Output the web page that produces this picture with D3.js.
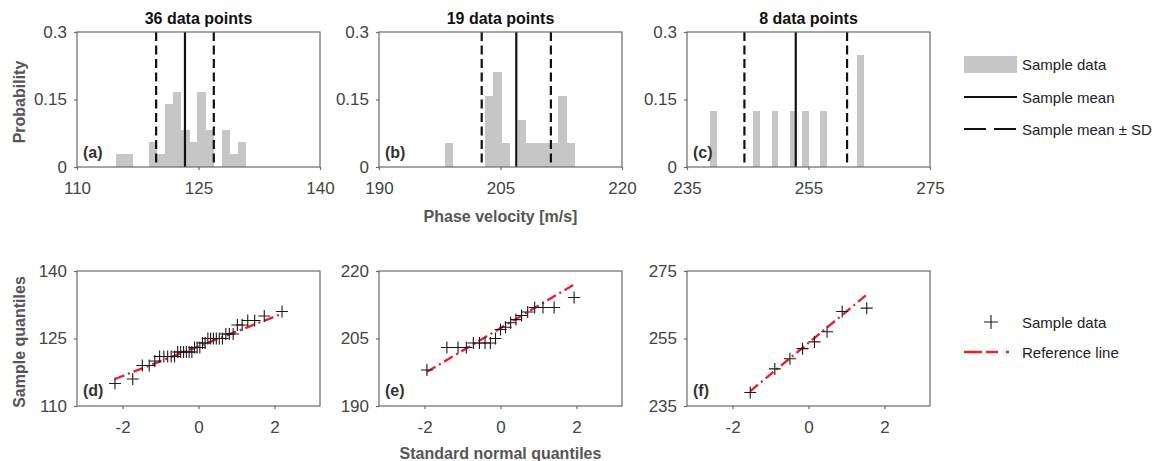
<!DOCTYPE html>
<html>
<head>
<meta charset="utf-8">
<script src="https://cdn.jsdelivr.net/npm/d3@7"></script>
<style>
    body { margin: 0; background: #fff; }
    svg { font-family: "Liberation Sans", Arial, sans-serif; }
</style>
</head>
<body>
<svg id="chart" width="1164" height="461"></svg>
<script>
// ---- data ----
const titles = ['36 data points', '19 data points', '8 data points'];
const histLetters = ['(a)', '(b)', '(c)'];
const qqLetters = ['(d)', '(e)', '(f)'];

const histDomains = [[110, 140], [190, 220], [235, 275]];
const histTicks = [[110, 125, 140], [190, 205, 220], [235, 255, 275]];
const probTicks = [0, 0.15, 0.3];
const probTickLabels = ['0', '0.15', '0.3'];

// histogram bins: lower edge, shared width, probability
const binWidths = [1.0, 1.0, 1.05];
const binStartsA = [114.85, 115.85, 116.85, 117.85, 118.85, 119.85, 120.85, 121.85,
    122.85, 123.85, 124.85, 125.85, 126.85, 127.85, 128.85, 129.85];
const probA = [0.028, 0.028, 0, 0, 0.056, 0.028, 0.139, 0.167,
    0.083, 0.056, 0.167, 0.083, 0, 0.083, 0.028, 0.056];
const binStartsB = [198.1, 199.1, 200.1, 201.1, 202.1, 203.1, 204.1, 205.1,
    206.1, 207.1, 208.1, 209.1, 210.1, 211.1, 212.1, 213.1];
const probB = [0.053, 0, 0, 0, 0, 0.158, 0.211, 0.053,
    0, 0.105, 0.053, 0.053, 0.053, 0.053, 0.158, 0.053];
const binStartsC = [238.85, 245.85, 248.93, 251.9, 253.9, 256.9, 263.0];
const probC = [0.125, 0.125, 0.125, 0.125, 0.125, 0.125, 0.25];

const sampleMeans = [123.33, 206.95, 252.9];
const sampleSDs = [3.56, 4.27, 8.45];

// Q-Q plots: standard normal quantiles vs. sorted sample
const qqDomainX = [-3.2, 3.2];
const qqTicksX = [-2, 0, 2];
const qqDomains = [[110, 140], [190, 220], [235, 275]];
const qqTicksY = [[110, 125, 140], [190, 205, 220], [235, 255, 275]];

const qqXA = [-2.200, -1.732, -1.480, -1.297, -1.150, -1.024, -0.913, -0.812, -0.719,
    -0.631, -0.548, -0.469, -0.393, -0.319, -0.246, -0.175, -0.105, -0.035,
    0.035, 0.105, 0.175, 0.246, 0.319, 0.393, 0.469, 0.548, 0.631,
    0.719, 0.812, 0.913, 1.024, 1.150, 1.297, 1.480, 1.732, 2.200];
const qqYA = [115, 116, 119, 119, 120, 121, 121, 121, 121, 121, 122, 122, 122, 122, 122, 122,
    123, 123, 123, 124, 124, 125, 125, 125, 125, 125, 125, 126, 126, 126,
    128, 128, 129, 129, 130, 131];
const qqXB = [-1.938, -1.412, -1.119, -0.900, -0.716, -0.555, -0.407, -0.267, -0.132, 0,
    0.132, 0.267, 0.407, 0.555, 0.716, 0.900, 1.119, 1.412, 1.938];
const qqYB = [198, 203, 203, 203, 204, 204, 204, 204, 205, 207,
    207.5, 208.5, 209.2, 210.1, 210.9, 211.9, 211.9, 211.9, 214.1];
const qqXC = [-1.534, -0.887, -0.489, -0.157, 0.157, 0.489, 0.887, 1.534];
const qqYC = [239, 246, 249, 252, 254, 257, 263, 264];

// reference lines (end points)
const refX = [[-2.2, 2.2], [-1.938, 1.938], [-1.534, 1.534]];
const refY = [[116.0, 130.5], [197.6, 217.0], [239.4, 268.0]];

// ---- layout ----
const lefts = [77, 379, 687];
const panelW = 243;
const panelH = 135;
const tops = [32, 271];

const barColor = '#c6c6c6';
const axisColor = '#6a6a6a';
const tickColor = '#444';
const labelColor = '#555';
const redColor = '#e8242a';
const meanDash = '9,4.5';
const refDash = '10,4,2,4';

const histBins = [binStartsA, binStartsB, binStartsC];
const histProbs = [probA, probB, probC];
const qqX = [qqXA, qqXB, qqXC];
const qqY = [qqYA, qqYB, qqYC];

const svg = d3.select('#chart');

function styleAxis(g) {
    g.select('.domain').remove();
    g.selectAll('.tick line').attr('stroke', axisColor).attr('stroke-width', 1.2);
    g.selectAll('.tick text')
        .attr('fill', tickColor)
        .style('font-size', '17px');
}

function frame(g) {
    g.append('rect')
        .attr('x', 0).attr('y', 0)
        .attr('width', panelW).attr('height', panelH)
        .attr('fill', 'none')
        .attr('stroke', axisColor)
        .attr('stroke-width', 1.2);
}

function crossPath(size) {
    return `M${-size},0H${size}M0,${-size}V${size}`;
}

// ---- histogram row ----
histDomains.forEach((dom, i) => {
    const g = svg.append('g')
        .attr('transform', `translate(${lefts[i]},${tops[0]})`);

    const x = d3.scaleLinear().domain(dom).range([0, panelW]);
    const y = d3.scaleLinear().domain([0, 0.3]).range([panelH, 0]);

    const bars = histBins[i].map((b, k) => ({x0: b, p: histProbs[i][k]}))
        .filter(d => d.p > 0);

    g.selectAll('.bar')
        .data(bars)
        .enter()
        .append('rect')
        .attr('class', 'bar')
        .attr('x', d => x(d.x0))
        .attr('width', d => x(d.x0 + binWidths[i]) - x(d.x0) + 0.4)
        .attr('y', d => y(d.p))
        .attr('height', d => y(0) - y(d.p))
        .attr('fill', barColor)
        .attr('shape-rendering', 'crispEdges');

    const m = sampleMeans[i];
    const sd = sampleSDs[i];
    [m - sd, m + sd].forEach(v => {
        g.append('line')
            .attr('x1', x(v)).attr('x2', x(v))
            .attr('y1', y(0.3)).attr('y2', y(0))
            .attr('stroke', '#111')
            .attr('stroke-width', 2.2)
            .attr('stroke-dasharray', meanDash);
    });
    g.append('line')
        .attr('x1', x(m)).attr('x2', x(m))
        .attr('y1', y(0.3)).attr('y2', y(0))
        .attr('stroke', '#111')
        .attr('stroke-width', 2.2);

    frame(g);

    g.append('g')
        .attr('transform', `translate(0,${panelH})`)
        .call(d3.axisBottom(x).tickValues(histTicks[i]).tickSize(3).tickPadding(12)
            .tickFormat(d3.format('d')))
        .call(styleAxis);

    g.append('g')
        .call(d3.axisLeft(y).tickValues(probTicks).tickSize(3).tickPadding(7)
            .tickFormat((d, k) => probTickLabels[k]))
        .call(styleAxis);

    g.append('text')
        .attr('x', panelW / 2)
        .attr('y', -8)
        .attr('text-anchor', 'middle')
        .attr('font-weight', 'bold')
        .attr('font-size', '16px')
        .attr('fill', '#111')
        .text(titles[i]);

    g.append('text')
        .attr('x', 6)
        .attr('y', panelH - 9)
        .attr('font-weight', 'bold')
        .attr('font-size', '16px')
        .attr('fill', '#333')
        .text(histLetters[i]);
});

// ---- Q-Q row ----
qqDomains.forEach((dom, i) => {
    const g = svg.append('g')
        .attr('transform', `translate(${lefts[i]},${tops[1]})`);

    const x = d3.scaleLinear().domain(qqDomainX).range([0, panelW]);
    const y = d3.scaleLinear().domain(dom).range([panelH, 0]);

    const pts = qqX[i].map((q, k) => ({q: q, v: qqY[i][k]}));

    g.append('line')
        .attr('x1', x(refX[i][0])).attr('y1', y(refY[i][0]))
        .attr('x2', x(refX[i][1])).attr('y2', y(refY[i][1]))
        .attr('stroke', redColor)
        .attr('stroke-width', 2.4)
        .attr('stroke-dasharray', refDash);

    g.selectAll('.pt')
        .data(pts)
        .enter()
        .append('path')
        .attr('class', 'pt')
        .attr('transform', d => `translate(${x(d.q)},${y(d.v)})`)
        .attr('d', crossPath(6))
        .attr('stroke', '#1a1a1a')
        .attr('stroke-width', 1.1)
        .attr('fill', 'none');

    frame(g);

    g.append('g')
        .attr('transform', `translate(0,${panelH})`)
        .call(d3.axisBottom(x).tickValues(qqTicksX).tickSize(3).tickPadding(12)
            .tickFormat(d => d < 0 ? '-' + Math.abs(d) : String(d)))
        .call(styleAxis);

    g.append('g')
        .call(d3.axisLeft(y).tickValues(qqTicksY[i]).tickSize(3).tickPadding(7)
            .tickFormat(d3.format('d')))
        .call(styleAxis);

    g.append('text')
        .attr('x', 6)
        .attr('y', panelH - 10)
        .attr('font-weight', 'bold')
        .attr('font-size', '16px')
        .attr('fill', '#333')
        .text(qqLetters[i]);
});

// ---- axis titles ----
const axisTitle = (x, y, rot, txt) => {
    svg.append('text')
        .attr('transform', `translate(${x},${y}) rotate(${rot})`)
        .attr('text-anchor', 'middle')
        .attr('font-weight', 'bold')
        .attr('font-size', '16px')
        .attr('fill', labelColor)
        .text(txt);
};
axisTitle(25, 102, -90, 'Probability');
axisTitle(25, 342, -90, 'Sample quantiles');
axisTitle(lefts[1] + panelW / 2, 222, 0, 'Phase velocity [m/s]');
axisTitle(lefts[1] + panelW / 2, 459, 0, 'Standard normal quantiles');

// ---- legends ----
const legX = 964;
const legW = 53;
const legTextX = 1022;
const legend = svg.append('g').attr('font-size', '15px').attr('fill', '#222');

legend.append('rect')
    .attr('x', legX).attr('y', 56)
    .attr('width', legW).attr('height', 17)
    .attr('fill', barColor);
legend.append('text').attr('x', legTextX).attr('y', 70).text('Sample data');

legend.append('line')
    .attr('x1', legX).attr('x2', legX + legW)
    .attr('y1', 97).attr('y2', 97)
    .attr('stroke', '#111').attr('stroke-width', 2.2);
legend.append('text').attr('x', legTextX).attr('y', 102.5).text('Sample mean');

legend.append('line')
    .attr('x1', legX).attr('x2', legX + legW)
    .attr('y1', 129).attr('y2', 129)
    .attr('stroke', '#111').attr('stroke-width', 2.2)
    .attr('stroke-dasharray', '22,8');
legend.append('text').attr('x', legTextX).attr('y', 134.5).text('Sample mean \u00b1 SD');

legend.append('path')
    .attr('transform', 'translate(991,322)')
    .attr('d', crossPath(7))
    .attr('stroke', '#1a1a1a').attr('stroke-width', 1.1);
legend.append('text').attr('x', legTextX).attr('y', 327.5).text('Sample data');

legend.append('line')
    .attr('x1', legX).attr('x2', legX + legW)
    .attr('y1', 352).attr('y2', 352)
    .attr('stroke', redColor).attr('stroke-width', 2.4)
    .attr('stroke-dasharray', '18,4,12,8,3');
legend.append('text').attr('x', legTextX).attr('y', 357.5).text('Reference line');
</script>
</body>
</html>
